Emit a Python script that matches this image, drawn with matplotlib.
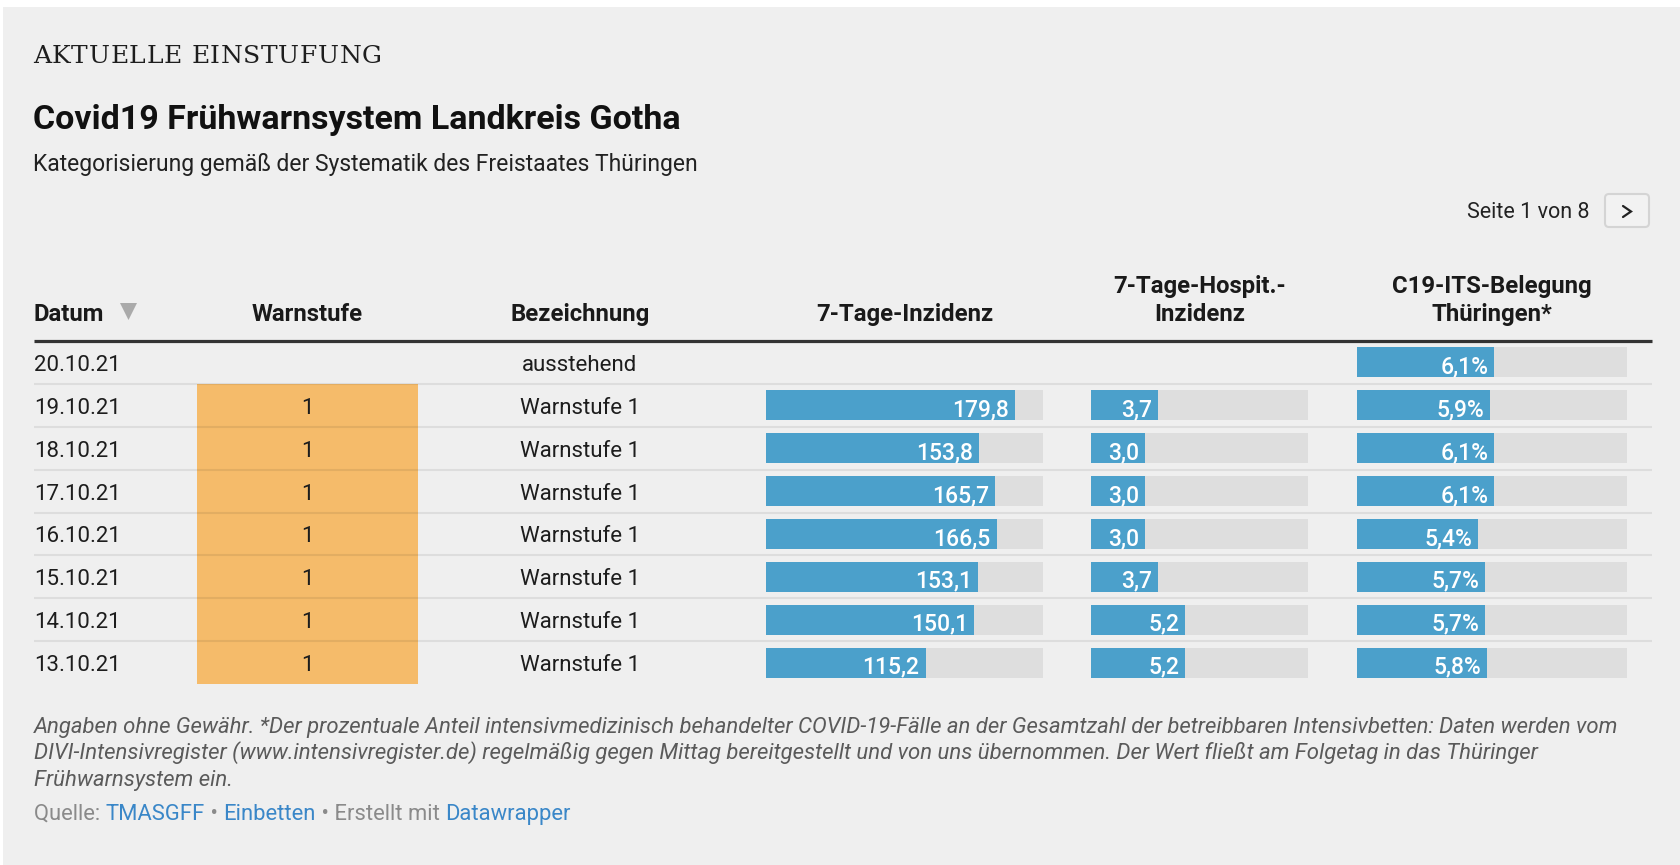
import numpy as np
import matplotlib
matplotlib.use("Agg")
import matplotlib.pyplot as plt
from matplotlib.patches import FancyBboxPatch, Polygon, Rectangle

# data (table rows, newest first)
dates = ["20.10.21", "19.10.21", "18.10.21", "17.10.21",
         "16.10.21", "15.10.21", "14.10.21", "13.10.21"]
warnstufe = [None, 1, 1, 1, 1, 1, 1, 1]
bezeichnung = ["ausstehend"] + ["Warnstufe 1"] * 7
inzidenz = [np.nan, 179.8, 153.8, 165.7, 166.5, 153.1, 150.1, 115.2]
hospit = [np.nan, 3.7, 3.0, 3.0, 3.0, 3.7, 5.2, 5.2]
its_belegung = [6.1, 5.9, 6.1, 6.1, 5.4, 5.7, 5.7, 5.8]

headers = ["Datum", "Warnstufe", "Bezeichnung", "7-Tage-Inzidenz",
           "7-Tage-Hospit.-\nInzidenz", "C19-ITS-Belegung\nThüringen*"]

W, H = 1681, 865
BG = "#efefef"
BLUE = "#4ba0cb"
TRACK = "#dedede"
ORANGE = "#f5bb6a"
FONT = "Roboto"

fig = plt.figure(figsize=(W / 100, H / 100), dpi=100)
fig.patch.set_facecolor("white")


def px_axes():
    a = fig.add_axes([0, 0, 1, 1])
    a.set_xlim(0, W)
    a.set_ylim(H, 0)
    a.axis("off")
    return a


def box(x0, y0, x1, y1):
    return [x0 / W, 1 - y1 / H, (x1 - x0) / W, (y1 - y0) / H]


back = px_axes()
back.add_patch(Rectangle((3, 7), W, H, color=BG, lw=0))

n = len(dates)
row_top, row_bot = 341, 684
row_h = (row_bot - row_top) / n
centers = [row_top + row_h * (i + 0.5) for i in range(n)]

# warnstufe cells
wax = fig.add_axes(box(197, row_top, 418, row_bot))
wax.set_xlim(0, 1)
wax.set_ylim(n - 0.5, -0.5)
wax.axis("off")
for i, w in enumerate(warnstufe):
    if w is not None:
        wax.barh(i, 1, height=1.0, left=0, color=ORANGE, lw=0)


def fmt(v, suffix=""):
    return f"{v:.1f}".replace(".", ",") + suffix


def bar_column(x0, x1, values, vmax, suffix=""):
    a = fig.add_axes(box(x0, row_top, x1, row_bot))
    a.set_xlim(0, vmax)
    a.set_ylim(n - 0.5, -0.5)
    a.axis("off")
    for i, v in enumerate(values):
        if np.isnan(v):
            continue
        a.barh(i, vmax, height=0.7, color=TRACK, lw=0)
        a.barh(i, v, height=0.7, color=BLUE, lw=0)
        a.annotate(fmt(v, suffix), xy=(v, i), xytext=(-4.3, -7.9),
                   textcoords="offset points", ha="right", va="baseline",
                   color="white", fontsize=16.5, fontweight="medium",
                   family=FONT)


bar_column(766, 1043, inzidenz, 200)
bar_column(1091, 1308, hospit, 12)
bar_column(1357, 1627, its_belegung, 12, "%")

ax = px_axes()
r = fig.canvas.get_renderer()


def text_w(s, **kw):
    t = ax.text(0, 0, s + "|", **kw)
    t2 = ax.text(0, 0, "|", **kw)
    w = (t.get_window_extent(r).width - t2.get_window_extent(r).width)
    t.remove()
    t2.remove()
    return w


# kicker with letter spacing
kicker = "AKTUELLE EINSTUFUNG"
kkw = dict(fontsize=18, family="DejaVu Serif", color="#1e1e1e")
nat = text_w(kicker, **kkw)
sp = (349 - nat) / (len(kicker) - 1)
for i, ch in enumerate(kicker):
    ax.text(33 + text_w(kicker[:i], **kkw) + i * sp, 63, ch,
            ha="left", va="baseline", **kkw)

ax.text(33, 129, "Covid19 Frühwarnsystem Landkreis Gotha", fontsize=24.5,
        fontweight="bold", family=FONT, color="#111111", va="baseline")
ax.text(33, 171, "Kategorisierung gemäß der Systematik des Freistaates Thüringen",
        fontsize=16.5, family=FONT, color="#222222", va="baseline")

# pagination
ax.text(1590, 218, "Seite 1 von 8", fontsize=15.5, family=FONT,
        color="#222222", ha="right", va="baseline")
ax.add_patch(FancyBboxPatch((1605, 194), 44, 33,
                            boxstyle="round,pad=0,rounding_size=4",
                            fc="#f2f2f2", ec="#d4d4d4", lw=1.5))
ax.plot([1623, 1631, 1623], [206, 211.5, 217], color="#222222", lw=1.6,
        solid_capstyle="round", solid_joinstyle="miter")

# header
hkw = dict(fontsize=17.2, fontweight="bold", family=FONT, color="#1a1a1a",
           va="baseline")
ax.text(34, 321, headers[0], ha="left", **hkw)
ax.add_patch(Polygon([[120, 303], [137, 303], [128.5, 320]], closed=True,
                     color="#aaaaaa", lw=0))
ax.text(307.5, 321, headers[1], ha="center", **hkw)
ax.text(580, 321, headers[2], ha="center", **hkw)
ax.text(904.5, 321, headers[3], ha="center", **hkw)
for cx, lab in [(1199.5, headers[4]), (1492, headers[5])]:
    l1, l2 = lab.split("\n")
    ax.text(cx, 293, l1, ha="center", **hkw)
    ax.text(cx, 321, l2, ha="center", **hkw)

ax.plot([34, 1652], [340.5, 340.5], color="#333333", lw=2.3,
        solid_capstyle="butt")
for k in range(1, n):
    y = row_top + row_h * k
    ax.plot([34, 1652], [y, y], color="black", alpha=0.075, lw=1.5,
            solid_capstyle="butt")

# body text
bkw = dict(fontsize=16, family=FONT, color="#1d1d1d", va="baseline")
for i in range(n):
    yb = centers[i] + 8.5
    ax.text(34, yb, dates[i], ha="left", **bkw)
    if warnstufe[i] is not None:
        ax.text(307.5, yb, str(warnstufe[i]), ha="center", **bkw)
    ax.text(580, yb, bezeichnung[i], ha="center", **bkw)

# notes
notes = [
    "Angaben ohne Gewähr. *Der prozentuale Anteil intensivmedizinisch behandelter COVID-19-Fälle an der Gesamtzahl der betreibbaren Intensivbetten: Daten werden vom",
    "DIVI-Intensivregister (www.intensivregister.de) regelmäßig gegen Mittag bereitgestellt und von uns übernommen. Der Wert fließt am Folgetag in das Thüringer",
    "Frühwarnsystem ein.",
]
for j, line in enumerate(notes):
    ax.text(34, 733 + 26.3 * j, line, fontsize=15.9, family=FONT,
            style="italic", color="#5a5a5a", va="baseline")

parts = [("Quelle: ", "#8a8a8a"), ("TMASGFF", "#3a87c8"), (" • ", "#8a8a8a"),
         ("Einbetten", "#3a87c8"), (" • Erstellt mit ", "#8a8a8a"),
         ("Datawrapper", "#3a87c8")]
qkw = dict(fontsize=15.8, family=FONT)
x = 34
for s, c in parts:
    ax.text(x, 820, s, color=c, va="baseline", **qkw)
    x += text_w(s, **qkw)

fig.savefig("out.png", dpi=100, facecolor=fig.get_facecolor())
